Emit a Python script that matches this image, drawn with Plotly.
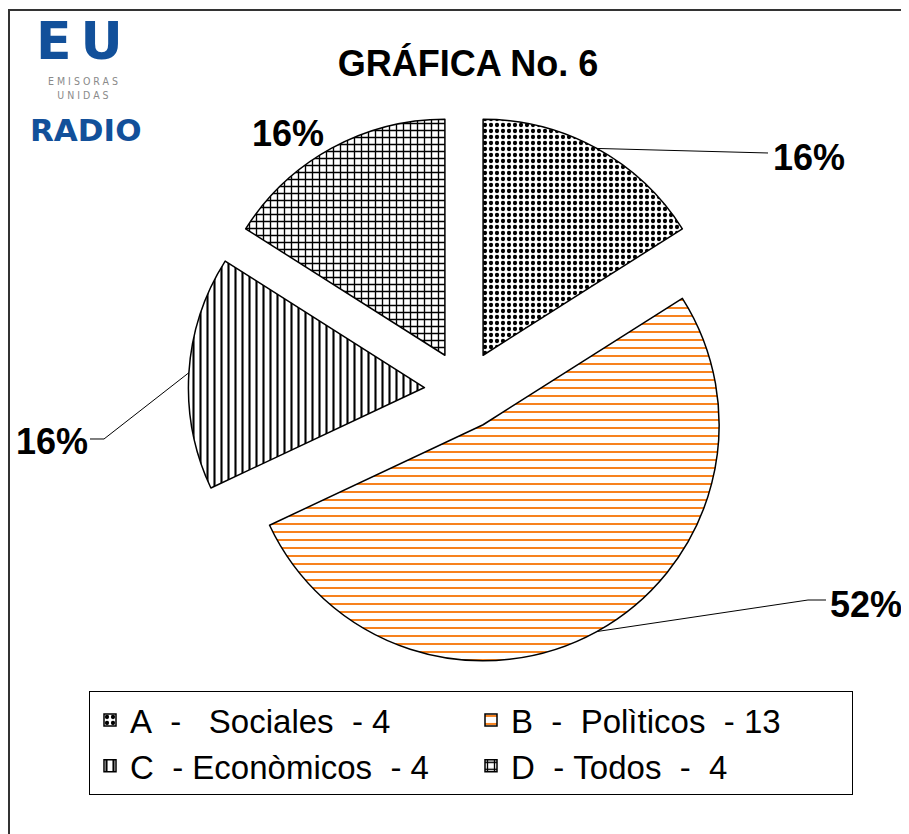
import math
import plotly.graph_objects as go

# ---------------- data ----------------
letters = ["A", "B", "C", "D"]
categories = ["Sociales", "Polìticos", "Econòmicos", "Todos"]
values = [4, 13, 4, 4]
legend_labels = [
    "A\u00a0\u00a0-\u00a0\u00a0\u00a0Sociales\u00a0\u00a0-\u00a04",
    "B\u00a0\u00a0-\u00a0\u00a0Polìticos\u00a0\u00a0-\u00a013",
    "C\u00a0\u00a0-\u00a0Econòmicos\u00a0\u00a0-\u00a04",
    "D\u00a0\u00a0-\u00a0Todos\u00a0\u00a0-\u00a0\u00a04",
]
title_text = "GRÁFICA No. 6"

# ---------------- layout constants (pixels, page coordinates) ----------------
PAGE_OFF = 8               # default body margin of the html page
W, H = 909 - PAGE_OFF, 834 - PAGE_OFF
CX, CY = 464, 390          # pie centre
R = 236                    # pie radius
PULL = 0.168               # explode fraction
half = R * (1 + PULL)

pattern_shapes = [".", "-", "|", "+"]
pattern_fg = ["black", "#F7821E", "black", "black"]
pattern_size = [6, 8, 7, 7]
pattern_sol = [0.4, 0.25, 0.3, 0.35]

# label placement (pixels): text centre, elbow points of leader line (None = no line)
label_pos = [(809, 157), (866, 604), (52, 441), (288, 133)]
label_elbows = [[(768, 153)], [(808, 600), (826, 600)], [(104, 439), (90, 439)], None]


def px(x):
    return (x - PAGE_OFF) / W


def py(y):
    return 1 - (y - PAGE_OFF) / H


fig = go.Figure()
fig.add_trace(go.Pie(
    labels=legend_labels,
    values=values,
    sort=False,
    direction="clockwise",
    rotation=0,
    pull=[PULL] * len(values),
    textinfo="none",
    hoverinfo="label+percent",
    marker=dict(
        colors=["white"] * len(values),
        line=dict(color="black", width=1.5),
        pattern=dict(shape=pattern_shapes, fgcolor=pattern_fg, bgcolor="white",
                     size=pattern_size, solidity=pattern_sol, fillmode="replace"),
    ),
    domain=dict(x=[px(CX - half), px(CX + half)], y=[py(CY + half), py(CY - half)]),
))

total = sum(values)
annotations = []
shapes = []
cum = 0
for i, v in enumerate(values):
    mid = (cum + v / 2) / total * 2 * math.pi
    cum += v
    pct = f"{round(v / total * 100)}%"
    tx, ty = label_pos[i]
    annotations.append(dict(x=px(tx), y=py(ty), xref="paper", yref="paper", text=f"<b>{pct}</b>",
                            showarrow=False, xanchor="center", yanchor="middle",
                            font=dict(family="Liberation Sans, Arial", size=36, color="black")))
    if label_elbows[i]:
        ax = CX + R * (1 + PULL) * math.sin(mid)
        ay = CY - R * (1 + PULL) * math.cos(mid)
        pts = [(ax, ay)] + label_elbows[i]
        path = "M " + " L ".join(f"{px(x):.5f},{py(y):.5f}" for x, y in pts)
        shapes.append(dict(type="path", xref="paper", yref="paper", path=path,
                           line=dict(color="black", width=1)))

# outer frame
shapes.append(dict(type="rect", xref="paper", yref="paper", x0=px(9), x1=1.05, y0=-0.05, y1=py(10),
                   line=dict(color="#333333", width=2), fillcolor="rgba(0,0,0,0)"))

# logo
logo_blue = "#12509A"
logo_gray = "#8A8A8A"
logo = [
    dict(x=px(84), y=py(41), text="<b><span style='letter-spacing:9px'>EU</span></b>",
         font=dict(family="DejaVu Sans", size=52, color=logo_blue)),
    dict(x=px(84), y=py(88), text="<span style='letter-spacing:3px'>EMISORAS</span><br>"
                                  "<span style='letter-spacing:3px'>UNIDAS</span>",
         font=dict(family="DejaVu Sans Condensed, DejaVu Sans", size=10.5, color=logo_gray)),
    dict(x=px(85), y=py(130), text="<b>RADIO</b>", font=dict(family="DejaVu Sans", size=31, color=logo_blue)),
]
for a in logo:
    a.update(xref="paper", yref="paper", showarrow=False, xanchor="center", yanchor="middle", borderpad=0)
annotations += logo

fig.update_layout(
    width=W, height=H,
    margin=dict(l=0, r=0, t=0, b=0),
    paper_bgcolor="white",
    plot_bgcolor="white",
    title=dict(text=f"<b>{title_text}</b>", x=px(468), y=py(63), xanchor="center", yanchor="middle",
               xref="paper", yref="paper",
               font=dict(family="Liberation Sans, Arial", size=36, color="black")),
    showlegend=True,
    legend=dict(
        orientation="h", x=px(89), y=py(691), xanchor="left", yanchor="top",
        bordercolor="black", borderwidth=1, bgcolor="white",
        entrywidth=336, entrywidthmode="pixels",
        font=dict(family="Liberation Sans, Arial", size=33, color="black"),
        traceorder="normal",
    ),
    annotations=annotations,
    shapes=shapes,
)

fig.write_html("out.html")
